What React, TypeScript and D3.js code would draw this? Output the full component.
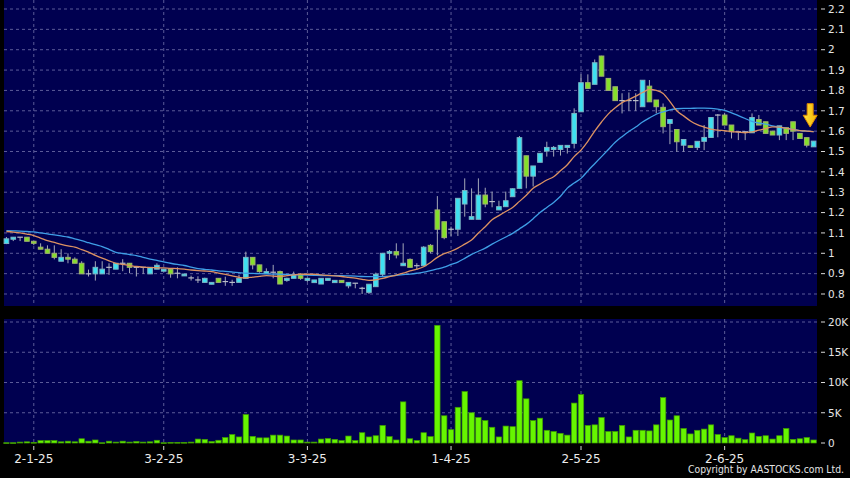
import React from "react";
import * as d3 from "d3";

// daily OHLC (oldest first)
const opens = [
  1.048, 1.069, 1.079, 1.079, 1.059, 1.03, 1.02, 1.0, 0.961, 0.98,
  0.971, 0.951, 0.899, 0.899, 0.899, 0.931, 0.922, 0.951, 0.951, 0.931,
  0.931, 0.899, 0.922, 0.912, 0.922, 0.902, 0.889, 0.879, 0.869, 0.857,
  0.848, 0.877, 0.861, 0.857, 0.857, 0.877, 0.98, 0.943, 0.9, 0.907,
  0.91, 0.867, 0.877, 0.897, 0.867, 0.856, 0.849, 0.867, 0.856, 0.867,
  0.84, 0.853, 0.828, 0.808, 0.836, 0.897, 1.0, 1.008, 0.939, 0.97,
  0.939, 0.939, 1.039, 1.213, 1.155, 1.118, 1.118, 1.242, 1.167, 1.167,
  1.286, 1.254, 1.213, 1.229, 1.278, 1.319, 1.479, 1.379, 1.447, 1.502,
  1.51, 1.51, 1.52, 1.54, 1.695, 1.838, 1.83, 1.969, 1.859, 1.818,
  1.75, 1.75, 1.75, 1.72, 1.821, 1.753, 1.717, 1.638, 1.608, 1.531,
  1.528, 1.52, 1.55, 1.569, 1.679, 1.679, 1.63, 1.597, 1.597, 1.592,
  1.657, 1.646, 1.6, 1.581, 1.617, 1.646, 1.589, 1.568, 1.523,
];
const highs = [
  1.08, 1.08, 1.08, 1.08, 1.06, 1.049, 1.039, 1.039, 1.02, 1.0,
  0.98, 0.961, 0.92, 0.961, 0.961, 0.951, 0.951, 0.971, 0.951, 0.931,
  0.931, 0.931, 0.951, 0.922, 0.922, 0.931, 0.898, 0.89, 0.887, 0.88,
  0.857, 0.877, 0.885, 0.87, 0.894, 1.008, 0.98, 0.943, 0.926, 0.943,
  0.915, 0.88, 0.91, 0.9, 0.877, 0.869, 0.877, 0.877, 0.867, 0.867,
  0.857, 0.853, 0.835, 0.848, 0.905, 1.0, 1.016, 1.049, 1.049, 0.975,
  0.951, 1.035, 1.045, 1.281, 1.155, 1.131, 1.27, 1.368, 1.319, 1.368,
  1.322, 1.303, 1.258, 1.303, 1.319, 1.576, 1.479, 1.429, 1.491, 1.548,
  1.527, 1.53, 1.53, 1.712, 1.879, 1.879, 1.952, 1.97, 1.859, 1.818,
  1.786, 1.79, 1.786, 1.85, 1.851, 1.753, 1.736, 1.657, 1.608, 1.559,
  1.528, 1.55, 1.63, 1.667, 1.684, 1.69, 1.63, 1.597, 1.597, 1.687,
  1.679, 1.646, 1.6, 1.626, 1.617, 1.646, 1.589, 1.568, 1.551,
];
const lows = [
  1.045, 1.06, 1.06, 1.059, 1.04, 1.02, 1.0, 0.97, 0.961, 0.951,
  0.951, 0.899, 0.886, 0.866, 0.899, 0.894, 0.922, 0.912, 0.902, 0.886,
  0.899, 0.899, 0.922, 0.912, 0.88, 0.877, 0.889, 0.866, 0.854, 0.855,
  0.848, 0.857, 0.84, 0.84, 0.857, 0.877, 0.921, 0.905, 0.9, 0.877,
  0.849, 0.86, 0.877, 0.87, 0.86, 0.856, 0.849, 0.867, 0.856, 0.856,
  0.828, 0.828, 0.8, 0.8, 0.836, 0.885, 0.967, 0.975, 0.939, 0.931,
  0.918, 0.939, 1.0, 0.99, 1.069, 1.085, 1.085, 1.18, 1.167, 1.167,
  1.226, 1.226, 1.213, 1.229, 1.278, 1.319, 1.319, 1.328, 1.447, 1.475,
  1.475, 1.48, 1.49, 1.515, 1.695, 1.81, 1.83, 1.87, 1.8, 1.75,
  1.687, 1.7, 1.7, 1.72, 1.744, 1.687, 1.589, 1.536, 1.499, 1.499,
  1.52, 1.507, 1.507, 1.569, 1.57, 1.63, 1.564, 1.556, 1.556, 1.592,
  1.63, 1.589, 1.581, 1.556, 1.556, 1.556, 1.564, 1.52, 1.523,
];
const closes = [
  1.071, 1.079, 1.079, 1.059, 1.049, 1.02, 1.0, 0.98, 0.98, 0.971,
  0.951, 0.899, 0.899, 0.931, 0.922, 0.931, 0.951, 0.951, 0.931, 0.931,
  0.931, 0.931, 0.941, 0.922, 0.899, 0.902, 0.898, 0.879, 0.869, 0.877,
  0.857, 0.857, 0.861, 0.857, 0.877, 0.98, 0.943, 0.91, 0.91, 0.907,
  0.849, 0.877, 0.894, 0.877, 0.877, 0.869, 0.877, 0.877, 0.867, 0.856,
  0.857, 0.853, 0.828, 0.848, 0.897, 1.0, 1.008, 0.992, 0.951, 0.931,
  0.939, 1.03, 1.008, 1.118, 1.077, 1.118, 1.27, 1.308, 1.18, 1.286,
  1.242, 1.254, 1.229, 1.258, 1.317, 1.568, 1.379, 1.429, 1.491, 1.52,
  1.52, 1.53, 1.53, 1.687, 1.838, 1.81, 1.936, 1.87, 1.8, 1.75,
  1.75, 1.75, 1.75, 1.85, 1.744, 1.72, 1.622, 1.657, 1.548, 1.559,
  1.52, 1.55, 1.569, 1.667, 1.679, 1.63, 1.597, 1.597, 1.597, 1.667,
  1.63, 1.589, 1.581, 1.626, 1.589, 1.6, 1.564, 1.531, 1.551,
];

// volume in thousands of shares
const volumes = [
  0.05, 0.05, 0.15, 0.2, 0.1, 0.4, 0.4, 0.4, 0.2, 0.3,
  0.2, 0.7, 0.3, 0.5, 0.05, 0.3, 0.15, 0.3, 0.15, 0.25,
  0.15, 0.2, 0.45, 0.05, 0.1, 0.1, 0.1, 0.15, 0.65, 0.6,
  0.25, 0.45, 0.9, 1.4, 1.0, 4.7, 1.1, 0.85, 0.85, 1.3,
  1.3, 1.15, 0.5, 0.5, 0.15, 0.15, 0.65, 0.75, 0.6, 0.4,
  1.15, 0.4, 1.7, 1.0, 1.2, 2.9, 1.05, 0.5, 6.8, 0.7,
  0.4, 1.7, 1.05, 19.45, 4.5, 2.2, 5.9, 8.5, 5.0, 4.2,
  3.7, 2.6, 1.0, 2.8, 2.7, 10.3, 7.3, 3.7, 4.1, 2.1,
  1.9, 1.6, 1.3, 6.6, 8.0, 2.9, 3.0, 4.2, 1.9, 1.9,
  2.9, 1.0, 2.1, 2.1, 2.0, 3.0, 7.5, 3.8, 4.5, 2.4,
  1.5, 2.1, 2.3, 3.0, 1.4, 0.9, 1.2, 0.8, 0.55, 1.65,
  1.1, 1.2, 0.65, 1.2, 2.4, 0.6, 0.7, 0.9, 0.5,
];

// moving averages as drawn on the chart
const maShort = [
  1.107, 1.104, 1.1, 1.094, 1.087, 1.075, 1.062, 1.053, 1.044, 1.036,
  1.03, 1.018, 1.006, 0.99, 0.976, 0.963, 0.951, 0.945, 0.94, 0.935,
  0.932, 0.93, 0.929, 0.928, 0.926, 0.925, 0.922, 0.918, 0.915, 0.913,
  0.91, 0.903, 0.896, 0.889, 0.882, 0.879, 0.883, 0.887, 0.89, 0.888,
  0.886, 0.89, 0.894, 0.897, 0.897, 0.897, 0.894, 0.891, 0.889, 0.886,
  0.882, 0.878, 0.872, 0.867, 0.87, 0.877, 0.885, 0.893, 0.902, 0.913,
  0.922, 0.934, 0.955, 0.98, 0.998, 1.01, 1.025, 1.045, 1.065, 1.1,
  1.13, 1.165, 1.185, 1.205, 1.225, 1.255, 1.285, 1.32, 1.34, 1.36,
  1.376, 1.405, 1.435, 1.475, 1.507, 1.55, 1.6, 1.645, 1.685, 1.715,
  1.74, 1.755, 1.772, 1.79, 1.805, 1.8, 1.785, 1.745, 1.7, 1.675,
  1.65, 1.632, 1.62, 1.61, 1.605, 1.602, 1.598, 1.595, 1.592, 1.596,
  1.605, 1.613, 1.621, 1.62, 1.614, 1.608, 1.603, 1.6, 1.597,
];
const maLong = [
  1.111, 1.11, 1.109, 1.107, 1.105, 1.1, 1.095, 1.09, 1.085, 1.08,
  1.071, 1.062, 1.052, 1.042, 1.033, 1.019, 1.005, 0.999, 0.994, 0.989,
  0.98, 0.971, 0.965, 0.958, 0.951, 0.945, 0.94, 0.932, 0.925, 0.921,
  0.918, 0.914, 0.911, 0.908, 0.905, 0.902, 0.901, 0.9, 0.899, 0.898,
  0.897, 0.896, 0.895, 0.894, 0.893, 0.892, 0.891, 0.891, 0.89, 0.89,
  0.889, 0.888, 0.886, 0.885, 0.885, 0.886, 0.888, 0.892, 0.895, 0.898,
  0.902, 0.907, 0.915, 0.923, 0.932, 0.945, 0.957, 0.975, 0.995, 1.01,
  1.025, 1.045, 1.063, 1.08, 1.098, 1.12, 1.142, 1.17, 1.2, 1.225,
  1.25, 1.28, 1.32, 1.345, 1.368, 1.405, 1.44, 1.475, 1.51, 1.545,
  1.573, 1.598, 1.62, 1.645, 1.665, 1.683, 1.695, 1.705, 1.71, 1.712,
  1.712, 1.713, 1.713, 1.712, 1.708, 1.702, 1.69, 1.676, 1.662, 1.648,
  1.64, 1.634, 1.626, 1.619, 1.614, 1.609, 1.603, 1.6, 1.597,
];

const dateTickIndex = [4, 23, 44, 65, 84, 105];
const dateTickLabels = ["2-1-25", "3-2-25", "3-3-25", "1-4-25", "2-5-25", "2-6-25"];
const priceTicks = [0.8, 0.9, 1.0, 1.1, 1.2, 1.3, 1.4, 1.5, 1.6, 1.7, 1.8, 1.9, 2.0, 2.1, 2.2];
const volumeTicks = [0, 5, 10, 15, 20];

const W = 850;
const H = 478;
const FONT = "DejaVu Sans, Verdana, sans-serif";
const NAVY = "#000050";
const GRID = "#5b5b98";
const UP = "#3ee0f0";
const DOWN = "#84e02a";

export default function App() {
  const n = opens.length;
  const plot = { left: 4, right: 817 };
  const price = { top: 0, bottom: 306 };
  const vol = { top: 319, bottom: 443 };

  const x = d3.scaleBand<number>().domain(d3.range(n)).range([3, 817]);
  const cx = (i: number) => (x(i) as number) + x.bandwidth() / 2;
  const y = d3.scaleLinear().domain([0.8, 2.2]).range([294, 9]);
  const yv = d3.scaleLinear().domain([0, 20]).range([443, 322]);

  const line = d3
    .line<number>()
    .x((_, i) => cx(i))
    .y((d) => y(d))
    .curve(d3.curveMonotoneX);

  const bodyW = 4.6;
  const barW = 5.4;

  // arrow marker above the latest session
  const ax = (cx(n - 2) + cx(n - 1)) / 2;
  const aTop = y(1.735);
  const aMid = y(1.678);
  const aTip = y(1.62);
  const arrowPath = `M${ax - 3},${aTop} L${ax + 3},${aTop} L${ax + 3},${aMid} L${ax + 7},${aMid} L${ax},${aTip} L${ax - 7},${aMid} L${ax - 3},${aMid} Z`;

  return (
    <svg
      width={W}
      height={H}
      style={{ position: "fixed", left: 0, top: 0, background: "#000" }}
      fontFamily={FONT}
    >
      <defs>
        <linearGradient id="arrowFill" x1="0" x2="1" y1="0" y2="0">
          <stop offset="0" stopColor="#ffe040" />
          <stop offset="1" stopColor="#f5b800" />
        </linearGradient>
      </defs>
      <rect x={0} y={0} width={W} height={H} fill="#000" />

      {/* price panel */}
      <rect x={plot.left} y={price.top} width={plot.right - plot.left} height={price.bottom - price.top} fill={NAVY} />
      {priceTicks.map((t) => (
        <line key={"pg" + t} x1={plot.left} x2={plot.right} y1={y(t)} y2={y(t)} stroke={GRID} strokeDasharray="3,3" strokeWidth={1} />
      ))}
      {dateTickIndex.map((i) => (
        <line key={"pv" + i} x1={cx(i)} x2={cx(i)} y1={price.top} y2={price.bottom} stroke={GRID} strokeDasharray="3,3" strokeWidth={1} />
      ))}

      {/* volume panel */}
      <rect x={plot.left} y={vol.top} width={plot.right - plot.left} height={vol.bottom - vol.top} fill={NAVY} />
      {volumeTicks.filter((t) => t > 0).map((t) => (
        <line key={"vg" + t} x1={plot.left} x2={plot.right} y1={yv(t)} y2={yv(t)} stroke={GRID} strokeDasharray="3,3" strokeWidth={1} />
      ))}
      {dateTickIndex.map((i) => (
        <line key={"vv" + i} x1={cx(i)} x2={cx(i)} y1={vol.top} y2={vol.bottom} stroke={GRID} strokeDasharray="3,3" strokeWidth={1} />
      ))}

      {/* volume bars */}
      {volumes.map((v, i) => (
        <rect
          key={"vb" + i}
          x={cx(i) - barW / 2}
          y={yv(v)}
          width={barW}
          height={Math.max(0.8, yv(0) - yv(v))}
          fill="#66f500"
          stroke="#3f9a00"
          strokeWidth={0.7}
        />
      ))}

      {/* candles */}
      {opens.map((o, i) => {
        const c = closes[i];
        const px = cx(i);
        const wick = (
          <line x1={px} x2={px} y1={y(highs[i])} y2={y(lows[i])} stroke="#a4a8b8" strokeWidth={1} />
        );
        if (o === c) {
          return (
            <g key={"c" + i}>
              {wick}
              <line x1={px - bodyW / 2 - 0.5} x2={px + bodyW / 2 + 0.5} y1={y(o)} y2={y(o)} stroke="#b8bcc8" strokeWidth={1.2} />
            </g>
          );
        }
        const up = c > o;
        const top = y(Math.max(o, c));
        const h = Math.max(1.5, y(Math.min(o, c)) - top);
        return (
          <g key={"c" + i}>
            {wick}
            <rect
              x={px - bodyW / 2}
              y={top}
              width={bodyW}
              height={h}
              fill={up ? UP : DOWN}
              stroke={up ? "#7cb4c4" : "#a0b070"}
              strokeWidth={1}
            />
          </g>
        );
      })}

      {/* moving averages */}
      <path d={line(maLong) || ""} fill="none" stroke="#3f9ee6" strokeWidth={1.3} />
      <path d={line(maShort) || ""} fill="none" stroke="#dc9262" strokeWidth={1.3} />

      {/* arrow */}
      <path d={arrowPath} fill="url(#arrowFill)" stroke="#e08a00" strokeWidth={1} />

      {/* price axis */}
      {priceTicks.map((t) => (
        <g key={"pl" + t}>
          <line x1={821} x2={825} y1={y(t)} y2={y(t)} stroke="#d8d8d8" strokeWidth={1} />
          <text x={828} y={y(t)} dy="0.36em" fontSize={10.5} fill="#e4e4e4">
            {String(Math.round(t * 10) / 10)}
          </text>
        </g>
      ))}

      {/* volume axis */}
      {volumeTicks.map((t) => (
        <g key={"vl" + t}>
          <line x1={821} x2={825} y1={yv(t)} y2={yv(t)} stroke="#d8d8d8" strokeWidth={1} />
          <text x={828} y={yv(t)} dy="0.36em" fontSize={10.5} fill="#e4e4e4">
            {t === 0 ? "0" : `${t}K`}
          </text>
        </g>
      ))}

      {/* date axis */}
      {dateTickIndex.map((i, k) => (
        <g key={"dl" + i}>
          <line x1={cx(i)} x2={cx(i)} y1={446} y2={450} stroke="#d8d8d8" strokeWidth={1} />
          <text x={cx(i)} y={463} textAnchor="middle" fontSize={12} fill="#ececec">
            {dateTickLabels[k]}
          </text>
        </g>
      ))}

      <text x={844} y={473} textAnchor="end" fontSize={10.5} fill="#e4e4e4" textLength={156} lengthAdjust="spacingAndGlyphs">
        Copyright by AASTOCKS.com Ltd.
      </text>
    </svg>
  );
}
